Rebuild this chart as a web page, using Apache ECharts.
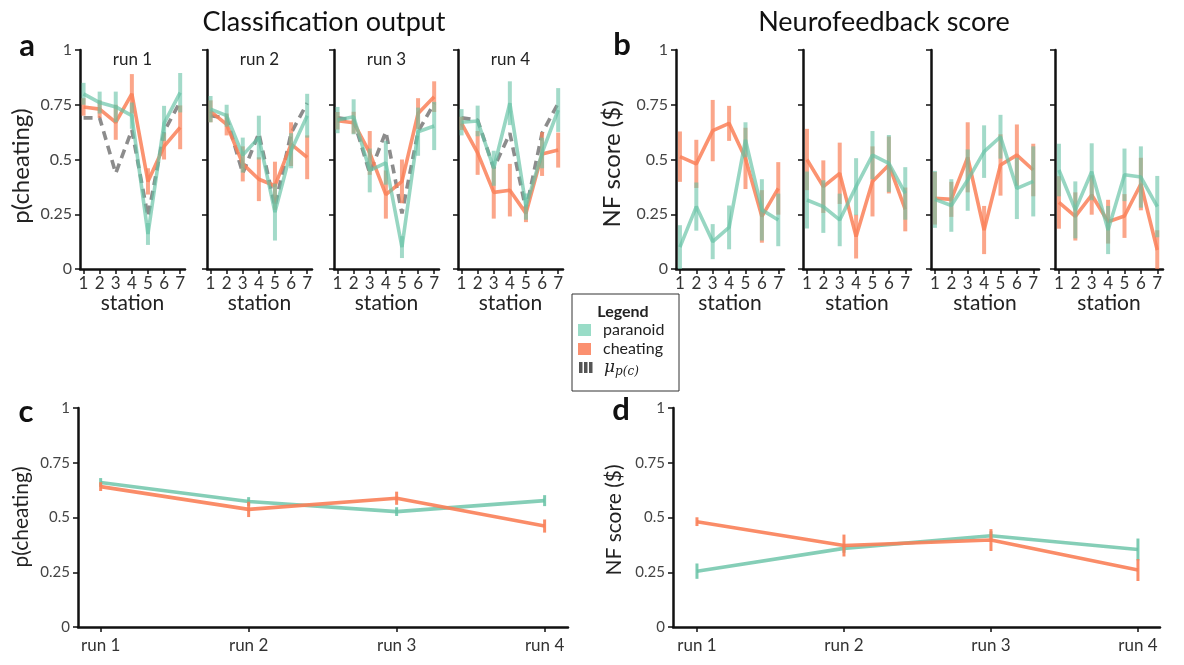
<!DOCTYPE html>
<html>
<head>
<meta charset="utf-8">
<script src="https://cdn.jsdelivr.net/npm/echarts@6.0.0/dist/echarts.min.js"></script>
<style>
html,body{margin:0;padding:0;background:#fff;}
#chart{width:1184px;height:665px;}
</style>
</head>
<body>
<div id="chart"></div>
<script>
// ---------- data ----------
const stations = [1, 2, 3, 4, 5, 6, 7];
const runNames = ['run 1', 'run 2', 'run 3', 'run 4'];
const runIdx = [1, 2, 3, 4];

// panel a: classification output p(cheating), per run, per station
const aParanoid = [
  [0.80, 0.76, 0.74, 0.70, 0.16, 0.665, 0.805],
  [0.73, 0.70, 0.52, 0.60, 0.26, 0.54, 0.70],
  [0.68, 0.695, 0.45, 0.485, 0.10, 0.627, 0.653],
  [0.67, 0.676, 0.46, 0.757, 0.285, 0.53, 0.726]
];
const aParanoidErr = [
  [0.05, 0.05, 0.07, 0.06, 0.05, 0.08, 0.09],
  [0.06, 0.05, 0.08, 0.10, 0.13, 0.08, 0.10],
  [0.06, 0.08, 0.10, 0.10, 0.05, 0.11, 0.11],
  [0.06, 0.07, 0.08, 0.10, 0.06, 0.07, 0.10]
];
const aCheating = [
  [0.74, 0.73, 0.67, 0.80, 0.40, 0.56, 0.647],
  [0.72, 0.66, 0.48, 0.41, 0.38, 0.57, 0.51],
  [0.677, 0.668, 0.53, 0.34, 0.40, 0.71, 0.787],
  [0.665, 0.53, 0.35, 0.36, 0.254, 0.525, 0.543]
];
const aCheatingErr = [
  [0.04, 0.04, 0.08, 0.09, 0.06, 0.06, 0.10],
  [0.05, 0.05, 0.08, 0.10, 0.11, 0.10, 0.10],
  [0.04, 0.05, 0.10, 0.11, 0.10, 0.07, 0.07],
  [0.03, 0.10, 0.12, 0.12, 0.04, 0.10, 0.08]
];
const aMean = [
  [0.69, 0.69, 0.437, 0.635, 0.24, 0.627, 0.764],
  [0.70, 0.69, 0.437, 0.62, 0.285, 0.62, 0.757],
  [0.69, 0.68, 0.437, 0.627, 0.254, 0.627, 0.757],
  [0.69, 0.68, 0.46, 0.62, 0.27, 0.62, 0.757]
];

// panel b: neurofeedback score
const bParanoid = [
  [0.10, 0.285, 0.125, 0.19, 0.59, 0.27, 0.224],
  [0.315, 0.285, 0.224, 0.376, 0.52, 0.482, 0.345],
  [0.318, 0.29, 0.406, 0.536, 0.604, 0.368, 0.40],
  [0.452, 0.27, 0.444, 0.178, 0.43, 0.42, 0.285]
];
const bParanoidErr = [
  [0.10, 0.11, 0.08, 0.10, 0.08, 0.14, 0.12],
  [0.13, 0.12, 0.12, 0.13, 0.11, 0.13, 0.12],
  [0.13, 0.12, 0.14, 0.12, 0.10, 0.14, 0.16],
  [0.12, 0.13, 0.13, 0.11, 0.12, 0.14, 0.14]
];
const bCheating = [
  [0.513, 0.48, 0.632, 0.665, 0.505, 0.24, 0.368],
  [0.50, 0.376, 0.437, 0.148, 0.40, 0.475, 0.272],
  [0.323, 0.318, 0.51, 0.178, 0.475, 0.52, 0.452],
  [0.304, 0.24, 0.338, 0.216, 0.242, 0.388, 0.087]
];
const bCheatingErr = [
  [0.115, 0.11, 0.14, 0.08, 0.14, 0.12, 0.12],
  [0.14, 0.12, 0.14, 0.10, 0.16, 0.13, 0.10],
  [0.12, 0.08, 0.16, 0.11, 0.14, 0.14, 0.12],
  [0.12, 0.11, 0.09, 0.10, 0.10, 0.12, 0.09]
];

// panel c: p(cheating) per run
const cParanoid = [0.66, 0.573, 0.527, 0.577];
const cParanoidErr = [0.02, 0.02, 0.02, 0.025];
const cCheating = [0.641, 0.537, 0.588, 0.461];
const cCheatingErr = [0.02, 0.035, 0.03, 0.03];

// panel d: NF score per run
const dParanoid = [0.255, 0.359, 0.417, 0.354];
const dParanoidErr = [0.035, 0.02, 0.02, 0.05];
const dCheating = [0.481, 0.372, 0.397, 0.26];
const dCheatingErr = [0.02, 0.05, 0.05, 0.05];

// ---------- styling ----------
const FONT = 'Lato';
const TEAL = 'rgba(102,194,165,0.68)';
const ORANGE = 'rgba(250,128,88,0.85)';
const TEAL_ERR = 'rgba(102,194,165,0.6)';
const ORANGE_ERR = 'rgba(250,128,88,0.7)';
const GRAY = '#8c8c8c';
const AX = '#111';

const chart = echarts.init(document.getElementById('chart'));

const grids = [], xAxes = [], yAxes = [], series = [], graphics = [];

function addGrid(left, top, width, height) {
  grids.push({ left: left, top: top, width: width, height: height, containLabel: false });
  return grids.length - 1;
}

function yAxisCfg(gi, showLabels, fs) {
  return {
    type: 'value', gridIndex: gi, min: 0, max: 1, interval: 0.25,
    axisLine: { show: true, lineStyle: { color: AX, width: 2.5 } },
    axisTick: { show: true, length: 5, lineStyle: { color: AX, width: 1.5 } },
    axisLabel: { show: showLabels, fontSize: fs, color: '#444', margin: 8, fontFamily: FONT },
    splitLine: { show: false }
  };
}

function lineSeries(gi, xs, ys, color, z, dashed) {
  return {
    type: 'line', xAxisIndex: gi, yAxisIndex: gi, silent: true, animation: false,
    symbol: 'none', showSymbol: false, z: z,
    data: xs.map((x, i) => [x, ys[i]]),
    lineStyle: { color: color, width: 3.6, type: dashed ? [9, 6] : 'solid', cap: 'butt' }
  };
}

function errSeries(gi, xs, ys, es, color, z, w) {
  return {
    type: 'custom', xAxisIndex: gi, yAxisIndex: gi, silent: true, animation: false, z: z,
    clip: true,
    data: xs.map((x, i) => [x, ys[i] - es[i], ys[i] + es[i]]),
    encode: { x: 0, y: [1, 2] },
    renderItem: function (params, api) {
      const p1 = api.coord([api.value(0), api.value(1)]);
      const p2 = api.coord([api.value(0), api.value(2)]);
      return { type: 'line', shape: { x1: p1[0], y1: p1[1], x2: p2[0], y2: p2[1] },
        style: { stroke: color, lineWidth: w } };
    }
  };
}

function text(x, y, str, opts) {
  graphics.push({
    type: 'text', x: x, y: y, silent: true,
    style: Object.assign({ text: str, fontFamily: FONT, fill: '#111', align: 'center', verticalAlign: 'middle' }, opts || {})
  });
}

// ---------- panels a & b ----------
const aLefts = [80, 207, 334, 458];
const bLefts = [676, 803, 931, 1055];

function smallPanel(left, width, xmin, xmax, r, isA) {
  const gi = addGrid(left, 50, width, 219);
  xAxes.push({
    type: 'value', gridIndex: gi, min: xmin, max: xmax,
    axisLine: { show: true, onZero: false, lineStyle: { color: AX, width: 2.5 } },
    axisTick: { show: true, customValues: stations, length: 5, lineStyle: { color: AX, width: 1.5 } },
    axisLabel: { customValues: stations, fontSize: 17, color: '#333', margin: 6, fontFamily: FONT },
    splitLine: { show: false },
    name: 'station', nameLocation: 'middle', nameGap: 24, nameMoveOverlap: false,
    nameTextStyle: { fontSize: 21, color: '#222', fontFamily: FONT, verticalAlign: 'top' }
  });
  yAxes.push(yAxisCfg(gi, r === 0, 16));
  if (isA) {
    series.push(lineSeries(gi, stations, aMean[r], GRAY, 2, true));
    series.push(errSeries(gi, stations, aCheating[r], aCheatingErr[r], ORANGE_ERR, 3, 4));
    series.push(lineSeries(gi, stations, aCheating[r], ORANGE, 4, false));
    series.push(errSeries(gi, stations, aParanoid[r], aParanoidErr[r], TEAL_ERR, 5, 4));
    series.push(lineSeries(gi, stations, aParanoid[r], TEAL, 6, false));
    text(left + width / 2, 60, runNames[r], { fontSize: 17, fill: '#222' });
  } else {
    series.push(errSeries(gi, stations, bCheating[r], bCheatingErr[r], ORANGE_ERR, 3, 4));
    series.push(lineSeries(gi, stations, bCheating[r], ORANGE, 4, false));
    series.push(errSeries(gi, stations, bParanoid[r], bParanoidErr[r], TEAL_ERR, 5, 4));
    series.push(lineSeries(gi, stations, bParanoid[r], TEAL, 6, false));
  }
}

for (let r = 0; r < 4; r++) smallPanel(aLefts[r], 105, 0.78, 7.3, r, true);
for (let r = 0; r < 4; r++) smallPanel(bLefts[r], 108, 0.76, 7.35, r, false);

// ---------- panels c & d ----------
function bigPanel(left, width, xmin, xmax, par, parE, che, cheE) {
  const gi = addGrid(left, 408, width, 219);
  xAxes.push({
    type: 'value', gridIndex: gi, min: xmin, max: xmax,
    axisLine: { show: true, onZero: false, lineStyle: { color: AX, width: 2.5 } },
    axisTick: { show: true, customValues: runIdx, length: 5, lineStyle: { color: AX, width: 1.5 } },
    axisLabel: { customValues: runIdx, fontSize: 17, color: '#333', margin: 10, fontFamily: FONT,
      formatter: v => runNames[v - 1] },
    splitLine: { show: false }
  });
  yAxes.push(yAxisCfg(gi, true, 15));
  series.push(errSeries(gi, runIdx, par, parE, 'rgba(102,194,165,0.85)', 3, 3));
  series.push(lineSeries(gi, runIdx, par, 'rgba(102,194,165,0.8)', 4, false));
  series.push(errSeries(gi, runIdx, che, cheE, 'rgba(250,128,88,0.9)', 5, 3));
  series.push(lineSeries(gi, runIdx, che, 'rgba(250,128,88,0.9)', 6, false));
}
bigPanel(78, 490, 0.847, 4.158, cParanoid, cParanoidErr, cCheating, cCheatingErr);
bigPanel(673, 487, 0.837, 4.15, dParanoid, dParanoidErr, dCheating, dCheatingErr);

// ---------- texts ----------
text(324, 22, 'Classification output', { fontSize: 27 });
text(884, 22, 'Neurofeedback score', { fontSize: 27 });
text(27, 46, 'a', { fontSize: 31, fontWeight: 'bold' });
text(622, 45, 'b', { fontSize: 31, fontWeight: 'bold' });
text(26, 412, 'c', { fontSize: 31, fontWeight: 'bold' });
text(621, 410, 'd', { fontSize: 31, fontWeight: 'bold' });

function vtext(x, y, str, fs) {
  graphics.push({ type: 'text', x: x, y: y, rotation: Math.PI / 2, silent: true,
    style: { text: str, fontFamily: FONT, fontSize: fs, fill: '#222', align: 'center', verticalAlign: 'middle' } });
}
vtext(21, 166, 'p(cheating)', 24);
vtext(612, 164, 'NF score ($)', 24);
vtext(21, 517, 'p(cheating)', 21);
vtext(614, 520, 'NF score ($)', 21);

// ---------- legend ----------
graphics.push({ type: 'rect', silent: true, shape: { x: 572, y: 294, width: 107, height: 97 },
  style: { fill: '#fff', stroke: '#333', lineWidth: 1 }, z: 10 });
graphics.push({ type: 'text', x: 623, y: 312, silent: true, z: 11,
  style: { text: 'Legend', fontFamily: FONT, fontSize: 16, fontWeight: 'bold', fill: '#222', align: 'center', verticalAlign: 'middle' } });
graphics.push({ type: 'rect', silent: true, z: 11, shape: { x: 578, y: 324, width: 13, height: 12 }, style: { fill: '#99dcc7' } });
graphics.push({ type: 'rect', silent: true, z: 11, shape: { x: 578, y: 343, width: 13, height: 12 }, style: { fill: '#fb9070' } });
[579, 584, 589].forEach(x => graphics.push({ type: 'rect', silent: true, z: 11,
  shape: { x: x, y: 362, width: 3.5, height: 11 }, style: { fill: '#555' } }));
graphics.push({ type: 'text', x: 603, y: 330, silent: true, z: 11,
  style: { text: 'paranoid', fontFamily: FONT, fontSize: 16, fill: '#222', align: 'left', verticalAlign: 'middle' } });
graphics.push({ type: 'text', x: 603, y: 349, silent: true, z: 11,
  style: { text: 'cheating', fontFamily: FONT, fontSize: 16, fill: '#222', align: 'left', verticalAlign: 'middle' } });
graphics.push({ type: 'text', x: 604, y: 368, silent: true, z: 11,
  style: { text: '{m|μ}{s|p(c)}', align: 'left', verticalAlign: 'middle',
    rich: { m: { fontFamily: 'DejaVu Serif', fontStyle: 'italic', fontSize: 17, fill: '#222' },
            s: { fontFamily: 'DejaVu Serif', fontStyle: 'italic', fontSize: 12, fill: '#222', verticalAlign: 'bottom', padding: [7, 0, 0, 0] } } } });

chart.setOption({
  animation: false,
  backgroundColor: '#fff',
  grid: grids,
  xAxis: xAxes,
  yAxis: yAxes,
  series: series,
  graphic: graphics
});
</script>
</body>
</html>
